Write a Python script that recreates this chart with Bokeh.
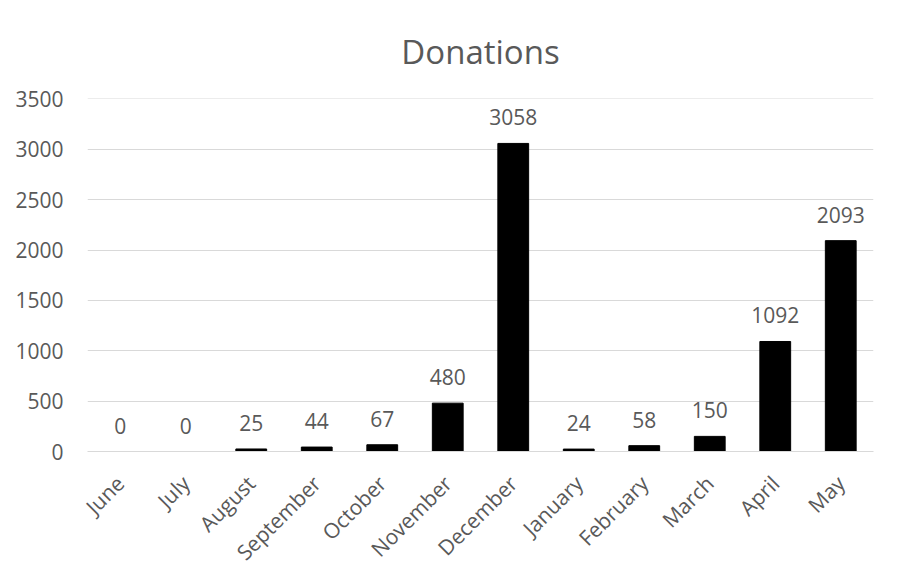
import math
from bokeh.plotting import figure
from bokeh.models import ColumnDataSource, Range1d, FactorRange
from bokeh.core.properties import value
from bokeh.embed import file_html
from bokeh.resources import INLINE

months = ["June", "July", "August", "September", "October", "November",
          "December", "January", "February", "March", "April", "May"]
donations = [0, 0, 25, 44, 67, 480, 3058, 24, 58, 150, 1092, 2093]
y_ticks = [0, 500, 1000, 1500, 2000, 2500, 3000, 3500]

FONT = "Open Sans"
GREY = "#595959"

src = ColumnDataSource(dict(month=months, val=donations,
                            lbl=[str(v) for v in donations]))

p = figure(width=902, height=579, x_range=FactorRange(*months, range_padding=0),
           y_range=Range1d(0, 3504), output_backend="svg", toolbar_location=None,
           title="Donations", min_border_left=87, min_border_right=29,
           min_border_top=98, min_border_bottom=128)

p.vbar(x="month", top="val", width=0.47, color="black", source=src)
p.text(x="month", y="val", text="lbl", source=src, text_align="center",
       text_baseline="alphabetic", y_offset=-26, text_font=value(FONT),
       text_font_size="21px", text_color=GREY)

p.title.align = "center"
p.title.text_font = FONT
p.title.text_font_size = "33px"
p.title.text_font_style = "normal"
p.title.text_color = GREY
p.title.standoff = 50

p.outline_line_color = None
p.xgrid.grid_line_color = None
p.ygrid.grid_line_color = "#d9d9d9"
p.ygrid.grid_line_width = 1
p.yaxis.ticker = y_ticks

for ax in (p.xaxis[0], p.yaxis[0]):
    ax.major_tick_line_color = None
    ax.minor_tick_line_color = None
    ax.major_label_text_font = FONT
    ax.major_label_text_font_size = "21px"
    ax.major_label_text_color = GREY

p.yaxis.axis_line_color = None
p.yaxis.major_label_standoff = 18
p.xaxis.axis_line_color = "#d9d9d9"
p.xaxis.major_label_orientation = math.pi / 4
p.xaxis.major_label_standoff = 22

open("out.html", "w").write(file_html(p, INLINE))
